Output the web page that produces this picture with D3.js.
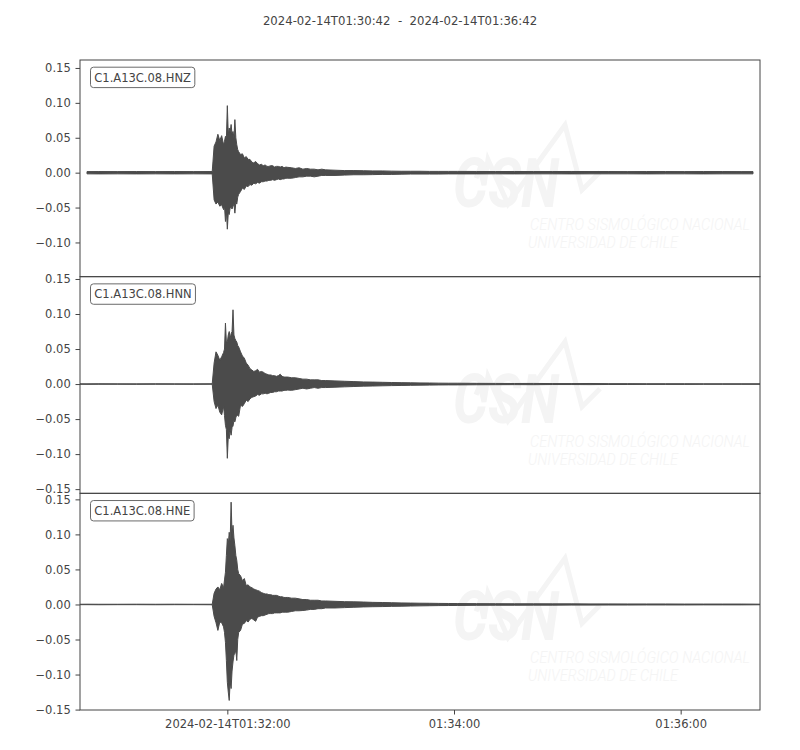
<!DOCTYPE html>
<html><head><meta charset="utf-8">
<script src="https://cdn.jsdelivr.net/npm/d3@7"></script>
<style>body{margin:0;background:#fff}</style>
</head><body><svg id="c" width="800" height="750"></svg>
<script>
// ---------------- data ----------------
const title = "2024-02-14T01:30:42  -  2024-02-14T01:36:42";
const startTime = "2024-02-14T01:30:42Z";
const endTime = "2024-02-14T01:36:42Z";
const channels = ["C1.A13C.08.HNZ", "C1.A13C.08.HNN", "C1.A13C.08.HNE"];
const yDomains = [[-0.149, 0.1614], [-0.156, 0.1533], [-0.1506, 0.1586]];
const yTickValues = [-0.15, -0.10, -0.05, 0.00, 0.05, 0.10, 0.15];
const xTickTimes = ["2024-02-14T01:32:00Z", "2024-02-14T01:34:00Z", "2024-02-14T01:36:00Z"];
const xTickLabels = ["2024-02-14T01:32:00", "01:34:00", "01:36:00"];
const watermarkTitle = "CSN";
const watermarkLine1 = "CENTRO SISMOLÓGICO NACIONAL";
const watermarkLine2 = "UNIVERSIDAD DE CHILE";

// seconds after start time
const offsets = [0, 3.7, 10, 20, 30, 40, 50, 60, 70,
  71, 72, 73, 74, 75,
  76, 76.5, 77, 77.5, 78, 78.5, 79, 79.5, 80, 80.5, 81, 81.5, 82, 82.5, 83, 83.5, 84,
  85, 86, 87, 88, 89, 90,
  91, 92, 93, 94, 95, 96, 97, 98, 99, 100,
  101, 102, 103, 104, 105, 106, 107, 108, 109, 110,
  112, 114, 116, 118, 120, 122, 124, 126, 128, 130,
  135, 140, 145, 150, 155, 160, 165, 170, 175, 180, 185, 190, 195, 200,
  210, 220, 230, 240, 250, 260, 270, 280, 290, 300, 310, 320, 330, 340, 350,
  356.3, 360];

const hnzMax = [null, 0.0015, 0.0016, 0.0015, 0.0016, 0.0015, 0.0016, 0.0015, 0.0016,
  0.038, 0.044, 0.055, 0.046, 0.053,
  0.040, 0.045, 0.052, 0.048, 0.096, 0.055, 0.064, 0.058, 0.069, 0.055, 0.059, 0.050, 0.076, 0.050, 0.040, 0.033, 0.030,
  0.026, 0.027, 0.021, 0.023, 0.019, 0.019,
  0.015, 0.014, 0.016, 0.013, 0.011, 0.012, 0.010, 0.011, 0.009, 0.009,
  0.010, 0.010, 0.008, 0.009, 0.009, 0.008, 0.009, 0.007, 0.008, 0.0076,
  0.007, 0.006, 0.007, 0.005, 0.006, 0.005, 0.005, 0.004, 0.005, 0.004,
  0.0035, 0.003, 0.003, 0.0028, 0.0025, 0.0025, 0.0022, 0.002, 0.002, 0.002, 0.0018, 0.0018, 0.0018, 0.0018,
  0.0017, 0.0016, 0.0017, 0.0016, 0.0016, 0.0017, 0.0016, 0.0016, 0.0015, 0.0016, 0.0016, 0.0015, 0.0016, 0.0016, 0.0015,
  0.0015, null];
const hnzMin = [null, -0.0017, -0.0018, -0.0017, -0.0018, -0.0017, -0.0018, -0.0017, -0.0018,
  -0.039, -0.045, -0.042, -0.048, -0.046,
  -0.053, -0.048, -0.070, -0.055, -0.081, -0.058, -0.060, -0.050, -0.050, -0.052, -0.048, -0.045, -0.058, -0.042, -0.045, -0.035, -0.031,
  -0.027, -0.022, -0.024, -0.019, -0.020, -0.017,
  -0.018, -0.015, -0.016, -0.014, -0.015, -0.013, -0.013, -0.012, -0.012, -0.011,
  -0.011, -0.010, -0.011, -0.010, -0.009, -0.010, -0.009, -0.009, -0.008, -0.008,
  -0.008, -0.007, -0.006, -0.006, -0.005, -0.005, -0.006, -0.005, -0.004, -0.004,
  -0.004, -0.0035, -0.003, -0.003, -0.0028, -0.0025, -0.0025, -0.0022, -0.002, -0.002, -0.002, -0.002, -0.0018, -0.0018,
  -0.0018, -0.0017, -0.0018, -0.0017, -0.0017, -0.0018, -0.0017, -0.0017, -0.0017, -0.0018, -0.0017, -0.0017, -0.0018, -0.0017, -0.0017,
  -0.0017, null];

const hnnMax = [0.0003, 0.0003, 0.0004, 0.0003, 0.0003, 0.0004, 0.0003, 0.0003, 0.0004,
  0.030, 0.046, 0.041, 0.034, 0.039,
  0.045, 0.050, 0.087, 0.060, 0.060, 0.070, 0.075, 0.065, 0.072, 0.075, 0.106, 0.070, 0.065, 0.062, 0.060, 0.055, 0.053,
  0.046, 0.040, 0.037, 0.030, 0.027, 0.022,
  0.020, 0.018, 0.019, 0.021, 0.017, 0.018, 0.017, 0.015, 0.014, 0.013,
  0.013, 0.012, 0.012, 0.011, 0.012, 0.014, 0.011, 0.010, 0.010, 0.010,
  0.009, 0.009, 0.008, 0.007, 0.007, 0.006, 0.006, 0.006, 0.005, 0.005,
  0.0045, 0.004, 0.0035, 0.003, 0.0028, 0.0025, 0.0022, 0.002, 0.0018, 0.0016, 0.0015, 0.0013, 0.0012, 0.0012,
  0.001, 0.0009, 0.0008, 0.0009, 0.0007, 0.0007, 0.0008, 0.0006, 0.0006, 0.0005, 0.0005, 0.0005, 0.0004, 0.0004, 0.0004,
  0.0004, 0.0004];
const hnnMin = [-0.0003, -0.0004, -0.0003, -0.0003, -0.0004, -0.0003, -0.0003, -0.0004, -0.0003,
  -0.025, -0.035, -0.030, -0.040, -0.044,
  -0.032, -0.045, -0.059, -0.065, -0.106, -0.075, -0.078, -0.065, -0.073, -0.062, -0.060, -0.052, -0.054, -0.048, -0.044, -0.045, -0.046,
  -0.030, -0.032, -0.028, -0.023, -0.025, -0.021,
  -0.019, -0.018, -0.017, -0.015, -0.016, -0.014, -0.014, -0.013, -0.014, -0.013,
  -0.012, -0.012, -0.011, -0.011, -0.010, -0.010, -0.010, -0.009, -0.009, -0.0086,
  -0.009, -0.008, -0.007, -0.006, -0.007, -0.006, -0.005, -0.006, -0.005, -0.005,
  -0.0045, -0.004, -0.0035, -0.003, -0.0028, -0.0025, -0.0022, -0.002, -0.0018, -0.0016, -0.0015, -0.0013, -0.0012, -0.0012,
  -0.001, -0.0009, -0.0008, -0.0009, -0.0007, -0.0007, -0.0008, -0.0006, -0.0006, -0.0005, -0.0005, -0.0005, -0.0004, -0.0004, -0.0004,
  -0.0004, -0.0004];

const hneMax = [0.0003, 0.0004, 0.0003, 0.0003, 0.0004, 0.0003, 0.0004, 0.0003, 0.0003,
  0.016, 0.022, 0.025, 0.021, 0.030,
  0.024, 0.035, 0.046, 0.070, 0.094, 0.085, 0.103, 0.090, 0.146, 0.100, 0.113, 0.095, 0.084, 0.070, 0.063, 0.050, 0.044,
  0.041, 0.034, 0.037, 0.027, 0.028, 0.025,
  0.024, 0.022, 0.021, 0.020, 0.019, 0.017, 0.016, 0.015, 0.015, 0.014,
  0.014, 0.013, 0.013, 0.013, 0.012, 0.011, 0.011, 0.010, 0.010, 0.010,
  0.009, 0.009, 0.008, 0.007, 0.007, 0.006, 0.006, 0.006, 0.005, 0.005,
  0.0045, 0.004, 0.0038, 0.0035, 0.003, 0.0028, 0.0025, 0.0022, 0.002, 0.0018, 0.0017, 0.0015, 0.0014, 0.0013,
  0.0012, 0.0011, 0.001, 0.001, 0.0009, 0.0009, 0.0008, 0.0008, 0.0007, 0.0007, 0.0007, 0.0006, 0.0006, 0.0006, 0.0006,
  0.0005, 0.0004];
const hneMin = [-0.0003, -0.0003, -0.0004, -0.0003, -0.0003, -0.0004, -0.0003, -0.0003, -0.0004,
  -0.017, -0.026, -0.037, -0.025, -0.026,
  -0.032, -0.040, -0.054, -0.080, -0.111, -0.125, -0.137, -0.110, -0.120, -0.095, -0.082, -0.072, -0.070, -0.065, -0.080, -0.050, -0.040,
  -0.037, -0.028, -0.027, -0.023, -0.025, -0.021,
  -0.020, -0.022, -0.024, -0.018, -0.017, -0.016, -0.016, -0.015, -0.014, -0.013,
  -0.013, -0.013, -0.012, -0.012, -0.012, -0.012, -0.011, -0.011, -0.011, -0.011,
  -0.010, -0.009, -0.009, -0.0086, -0.008, -0.007, -0.007, -0.006, -0.006, -0.005,
  -0.005, -0.0045, -0.004, -0.0035, -0.0032, -0.003, -0.0027, -0.0025, -0.0022, -0.002, -0.0018, -0.0016, -0.0015, -0.0014,
  -0.0012, -0.0011, -0.0011, -0.001, -0.001, -0.0009, -0.0009, -0.0008, -0.0008, -0.0007, -0.0007, -0.0007, -0.0006, -0.0006, -0.0006,
  -0.0005, -0.0004];

const seriesMax = [hnzMax, hnnMax, hneMax];
const seriesMin = [hnzMin, hnnMin, hneMin];

// ---------------- drawing ----------------
(function () {
const FONT = "DejaVu Sans, sans-serif";
const FS = 11.5;
const INK = "#444444";
const WAVE = "#4b4b4b";
const WM = "#f4f4f4";

const plotLeft = 80, plotRight = 760, plotTop = 60, plotBottom = 710;
const panelH = (plotBottom - plotTop) / channels.length;
const svg = d3.select("#c");
svg.append("rect").attr("width", 800).attr("height", 750).attr("fill", "#fff");

const t0 = new Date(startTime).getTime();
const x = d3.scaleUtc().domain([new Date(startTime), new Date(endTime)]).range([plotLeft, plotRight]);

svg.append("text")
  .attr("x", 400).attr("y", 25)
  .attr("text-anchor", "middle")
  .attr("font-family", FONT).attr("font-size", 11.7)
  .attr("fill", INK)
  .style("white-space", "pre")
  .text(title);

channels.forEach((ch, i) => {
  const pTop = plotTop + i * panelH;
  const pBot = pTop + panelH;
  const y = d3.scaleLinear().domain(yDomains[i]).range([pBot, pTop]);
  const g = svg.append("g");

  const clipId = "clip" + i;
  svg.append("clipPath").attr("id", clipId)
    .append("rect").attr("x", plotLeft).attr("y", pTop).attr("width", plotRight - plotLeft).attr("height", panelH);

  // watermark
  const wm = g.append("g").attr("clip-path", `url(#${clipId})`);
  const wx = d3.scaleLinear().domain([0, 1]).range([plotLeft, plotRight]);
  const wy = d3.scaleLinear().domain([0, 1]).range([pTop, pBot]);
  const wPts = [[0.5824, 0.545], [0.5882, 0.50], [0.5941, 0.578], [0.6, 0.46], [0.6294, 0.665], [0.7132, 0.30], [0.7382, 0.60], [0.7647, 0.517]];
  wm.append("path")
    .attr("d", d3.line().x(d => wx(d[0])).y(d => wy(d[1]))(wPts))
    .attr("fill", "none").attr("stroke", WM).attr("stroke-width", 5)
    .attr("stroke-linejoin", "miter");
  wm.append("text")
    .attr("x", wx(0.5485)).attr("y", wy(0.677))
    .attr("font-family", "Roboto, sans-serif").attr("font-weight", 700)
    .attr("font-style", "italic").attr("font-size", 68)
    .attr("textLength", 106).attr("lengthAdjust", "spacingAndGlyphs")
    .attr("fill", WM).text(watermarkTitle);
  wm.append("text")
    .attr("x", wx(0.6618)).attr("y", wy(0.785))
    .attr("font-family", "Roboto, sans-serif").attr("font-weight", 300)
    .attr("font-style", "italic").attr("font-size", 16)
    .attr("textLength", 220).attr("lengthAdjust", "spacingAndGlyphs")
    .attr("fill", WM).text(watermarkLine1);
  wm.append("text")
    .attr("x", wx(0.659)).attr("y", wy(0.868))
    .attr("font-family", "Roboto, sans-serif").attr("font-weight", 300)
    .attr("font-style", "italic").attr("font-size", 16)
    .attr("textLength", 150).attr("lengthAdjust", "spacingAndGlyphs")
    .attr("fill", WM).text(watermarkLine2);

  // waveform envelope
  const data = offsets.map((t, k) => ({ t: new Date(t0 + t * 1000), hi: seriesMax[i][k], lo: seriesMin[i][k] }));
  const area = d3.area()
    .defined(d => d.hi != null && d.lo != null)
    .x(d => x(d.t)).y0(d => y(d.lo)).y1(d => y(d.hi));
  g.append("path")
    .attr("clip-path", `url(#${clipId})`)
    .attr("d", area(data))
    .attr("fill", WAVE).attr("stroke", WAVE).attr("stroke-width", 1)
    .attr("stroke-linejoin", "round");

  // frame
  g.append("rect")
    .attr("x", plotLeft).attr("y", pTop).attr("width", plotRight - plotLeft).attr("height", panelH)
    .attr("fill", "none").attr("stroke", INK).attr("stroke-width", 1);

  // y axis
  const [d0, d1] = yDomains[i];
  const ya = g.append("g").attr("transform", `translate(${plotLeft},0)`)
    .call(d3.axisLeft(y)
      .tickValues(yTickValues.filter(v => v >= d0 && v <= d1))
      .tickFormat(d3.format(".2f"))
      .tickSize(4.5).tickPadding(4.8));
  ya.select(".domain").remove();
  ya.selectAll("line").attr("stroke", INK);
  ya.selectAll("text").attr("font-family", FONT).attr("font-size", FS).attr("fill", INK);

  // channel label
  const lbl = g.append("g");
  const txt = lbl.append("text")
    .attr("x", 94.3).attr("y", pTop + 21.7)
    .attr("font-family", FONT).attr("font-size", FS).attr("fill", INK)
    .text(ch);
  const bb = txt.node().getBBox();
  lbl.insert("rect", "text")
    .attr("x", 90.5).attr("y", pTop + 7.2)
    .attr("width", bb.width + 7.6).attr("height", 20.4)
    .attr("rx", 3).attr("ry", 3)
    .attr("fill", "#fff").attr("stroke", "#6a6a6a").attr("stroke-width", 1);

  if (i === channels.length - 1) {
    const xa = g.append("g").attr("transform", `translate(0,${pBot})`)
      .call(d3.axisBottom(x)
        .tickValues(xTickTimes.map(s => new Date(s)))
        .tickFormat((d, k) => xTickLabels[k])
        .tickSize(4.5).tickPadding(5.5));
    xa.select(".domain").remove();
    xa.selectAll("line").attr("stroke", INK);
    xa.selectAll("text").attr("font-family", FONT).attr("font-size", FS).attr("fill", INK);
  }
});
})();
</script>
</body></html>
